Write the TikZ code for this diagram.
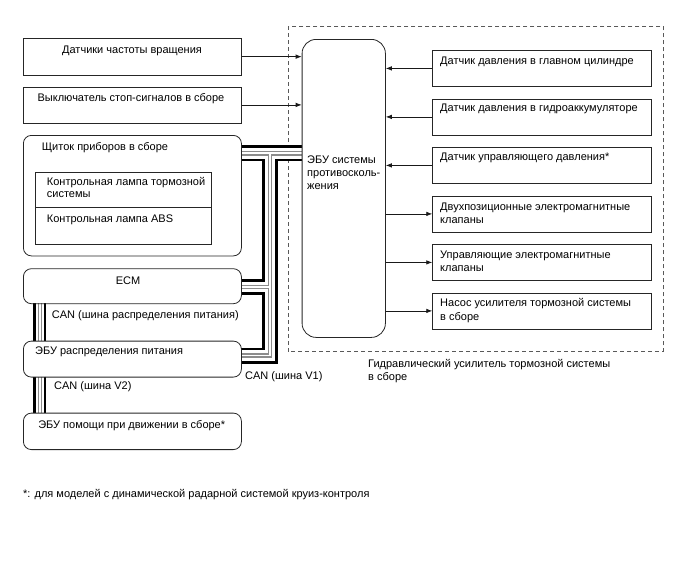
\documentclass[tikz,border=0pt]{standalone}
\usepackage{fontspec}
\setmainfont{Liberation Sans}
\usetikzlibrary{arrows.meta}
\tikzset{
  box/.style={draw=black!85, line width=0.8pt, inner sep=0pt, anchor=north west},
  rbox/.style={box, rounded corners=8pt},
  tl/.style={anchor=base west, inner sep=0pt, font=\fs},
  tc/.style={anchor=base, inner sep=0pt, font=\fs},
  arr/.style={-{Latex[length=6pt,width=4.5pt]}, line width=0.7pt, draw=black!90},
  canA/.style={line width=16pt, draw=black},
  canB/.style={line width=10.4pt, draw=white},
  canC/.style={line width=4.4pt, draw=black!45},
  canD/.style={line width=1.9pt, draw=white},
  scanA/.style={line width=13pt, draw=black},
  scanB/.style={line width=7.6pt, draw=white},
  scanC/.style={line width=4pt, draw=black!45},
  scanD/.style={line width=1.7pt, draw=white},
}
\newcommand{\fs}{\fontsize{11}{13.3}\selectfont}
\begin{document}
\begin{tikzpicture}[x=1pt,y=-1pt]
\useasboundingbox (0,0) rectangle (688,560);
% dashed assembly frame
\draw[draw=black!65, line width=0.8pt, dash pattern=on 4pt off 3pt] (288,26) rectangle (663,351.7);
% CAN bus coordinates
\coordinate (cMeter) at (241,153.3);
\coordinate (cAbs) at (301.7,153.3);
\coordinate (cTop) at (270,153.3);
\coordinate (cBend) at (270,355.5);
\coordinate (cPd) at (241,355.5);
\coordinate (cEcm) at (241,287);
\coordinate (cEcmJ) at (270,287);
\coordinate (cE1) at (39.7,303.3);
\coordinate (cE2) at (39.7,340.7);
\coordinate (cE3) at (39.7,376.7);
\coordinate (cE4) at (39.7,412.7);
\foreach \s in {canA,canB,canC,canD}{
  \draw[\s] (cMeter) -- (cAbs);
  \draw[\s] (cTop) -- (cBend) -- (cPd);
  \draw[\s] (cEcm) -- (cEcmJ);
}
\foreach \s in {scanA,scanB,scanC,scanD}{
  \draw[\s] (cE1) -- (cE2);
  \draw[\s] (cE3) -- (cE4);
}
% left boxes
\node[box, minimum width=218pt, minimum height=36.5pt] (s1) at (23,38) {};
\node[box, minimum width=218pt, minimum height=36pt] (s2) at (23,86.5) {};
\node[rbox, minimum width=218pt, minimum height=120.5pt] (meter) at (23,135) {};
\node[box, minimum width=176pt, minimum height=72.3pt] (lamps) at (35,171.7) {};
\draw[draw=black!85, line width=0.8pt] (35,207.3) coordinate (dv1) -- (211,207.3) coordinate (dv2);
\node[rbox, minimum width=218pt, minimum height=35pt] (ecm) at (23,268.3) {};
\node[rbox, minimum width=218pt, minimum height=36pt] (pd) at (23,340.7) {};
\node[rbox, minimum width=218pt, minimum height=36.5pt] (da) at (23,412.7) {};
% ABS ECU
\node[box, rounded corners=14pt, minimum width=83.3pt, minimum height=298pt] (abs) at (301.7,39) {};
% right boxes
\node[box, minimum width=218.4pt, minimum height=36pt] (r1) at (432.3,50) {};
\node[box, minimum width=218.4pt, minimum height=36pt] (r2) at (432.3,98.5) {};
\node[box, minimum width=218.4pt, minimum height=36pt] (r3) at (432.3,147) {};
\node[box, minimum width=218.4pt, minimum height=36pt] (r4) at (432.3,195.5) {};
\node[box, minimum width=218.4pt, minimum height=36pt] (r5) at (432.3,244) {};
\node[box, minimum width=218.4pt, minimum height=36pt] (r6) at (432.3,292.5) {};
% arrows
\draw[arr] (s1.east) -- (abs.west |- s1.east);
\draw[arr] (s2.east) -- (abs.west |- s2.east);
\draw[arr] (r1.west) -- (abs.east |- r1.west);
\draw[arr] (r2.west) -- (abs.east |- r2.west);
\draw[arr] (r3.west) -- (abs.east |- r3.west);
\draw[arr] (abs.east |- r4.west) -- (r4.west);
\draw[arr] (abs.east |- r5.west) -- (r5.west);
\draw[arr] (abs.east |- r6.west) -- (r6.west);
% texts
\node[tc] (ts1) at (132,53.5) {Датчики частоты вращения};
\node[tc] (ts2) at (131,101) {Выключатель стоп-сигналов в сборе};
\node[tl] (tm) at (41.7,150) {Щиток приборов в сборе};
\node[tl] (tl1) at (46.7,185.2) {Контрольная лампа тормозной};
\node[tl] (tl2) at (46.7,197.6) {системы};
\node[tl] (tl3) at (46.7,222.8) {Контрольная лампа ABS};
\node[tc] (tecm) at (128,284) {ECM};
\node[tl] (tcan1) at (51.7,318.5) {CAN (шина распределения питания)};
\node[tl] (tpd) at (35,354) {ЭБУ распределения питания};
\node[tl] (tcan2) at (54,389.5) {CAN (шина V2)};
\node[tc] (tda) at (131.7,428) {ЭБУ помощи при движении в сборе*};
\node[tl] (tcan3) at (245,379.5) {CAN (шина V1)};
\node[tl] (ta1) at (307,163.5) {ЭБУ системы};
\node[tl] (ta2) at (307,176.8) {противосколь-};
\node[tl] (ta3) at (307,189.4) {жения};
\node[tl] (tr1) at (440,64.2) {Датчик давления в главном цилиндре};
\node[tl] (tr2) at (440,111.8) {Датчик давления в гидроаккумуляторе};
\node[tl] (tr3) at (440,160.2) {Датчик управляющего давления*};
\node[tl] (tr4a) at (440,210.2) {Двухпозиционные электромагнитные};
\node[tl] (tr4b) at (440,223.5) {клапаны};
\node[tl] (tr5a) at (440,258.5) {Управляющие электромагнитные};
\node[tl] (tr5b) at (440,271.8) {клапаны};
\node[tl] (tr6a) at (440,306.8) {Насос усилителя тормозной системы};
\node[tl] (tr6b) at (440,320.2) {в сборе};
\node[tl] (th1) at (368,367.5) {Гидравлический усилитель тормозной системы};
\node[tl] (th2) at (368,380.8) {в сборе};
\node[tl] (tfoot) at (23,497) {*: для моделей с динамической радарной системой круиз-контроля};
\end{tikzpicture}
\end{document}
